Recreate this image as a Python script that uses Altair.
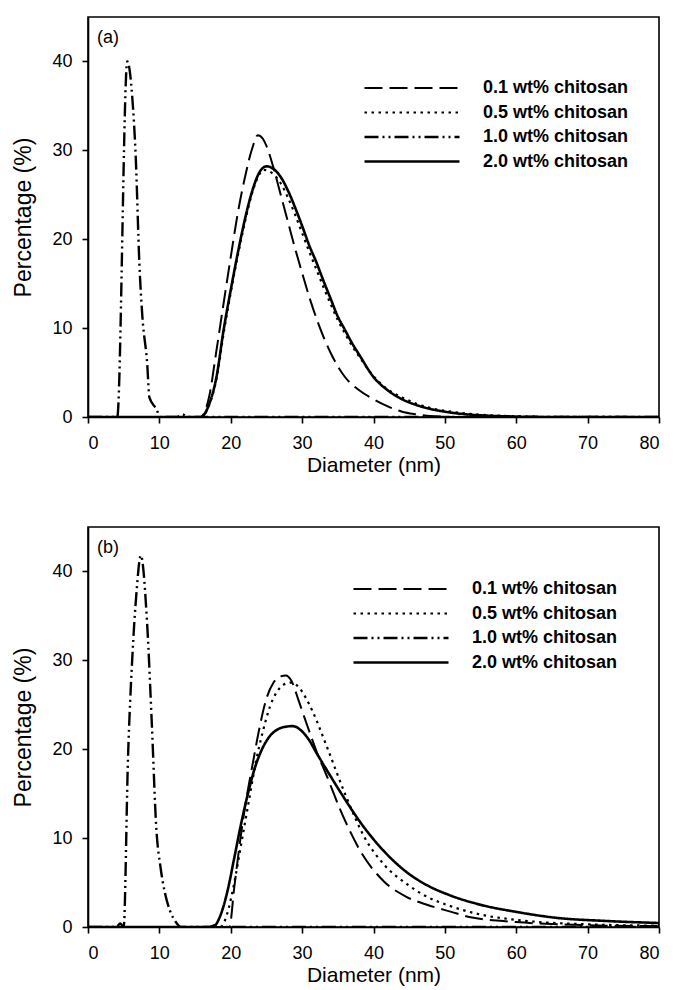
import altair as alt
import pandas as pd

SERIES = ["0.1 wt% chitosan", "0.5 wt% chitosan", "1.0 wt% chitosan", "2.0 wt% chitosan"]
DASHES = [[18, 7], [2.5, 4.5], [14, 4, 2, 4, 2, 4], [1, 0]]
WIDTHS = [2, 2.6, 2, 2]
FONT = "Liberation Sans, Arial, sans-serif"

# ---------------- panel (a) ----------------
a_x_01 = [0, 15.8, 17, 18, 19, 20, 21, 22, 23, 23.8, 24.5, 25, 26, 27, 28, 29, 30, 31, 32, 33, 34, 35, 36, 38, 40, 42, 44, 46, 48, 50, 52, 80]
a_y_01 = [0, 0, 2.4, 7.5, 12.8, 18, 23, 27, 30.2, 31.7, 31.3, 30.5, 28, 25, 22, 19, 16.2, 13.5, 11.1, 9.0, 7.2, 5.7, 4.5, 3.0, 2.0, 1.2, 0.6, 0.3, 0.1, 0.03, 0, 0]

a_x_05 = [0, 15.8, 17, 18, 19, 20, 21, 22, 23, 24, 24.6, 25.5, 26, 27, 28, 29, 30, 31, 32, 33, 34, 35, 36, 37, 38, 40, 42, 44, 46, 48, 50, 53, 56, 60, 65, 80]
a_y_05 = [0, 0, 1.4, 4.3, 9.4, 14.0, 18.2, 22.0, 25.2, 27.3, 27.8, 27.6, 27.3, 26.3, 24.7, 22.8, 20.7, 18.6, 16.6, 14.6, 12.7, 10.9, 9.4, 8.0, 6.8, 4.6, 3.1, 2.2, 1.5, 1.0, 0.7, 0.4, 0.2, 0.08, 0.02, 0]

a_x_10 = [0, 4.1, 5.5, 6.2, 6.7, 7.2, 7.6, 8.3, 8.6, 9.5, 10.2, 12.5, 13.2, 14, 80]
a_y_10 = [0, 0, 40, 36, 29, 17.2, 11.5, 5.9, 2.2, 1.0, 0, 0, 0.3, 0, 0]

a_x_20 = [0, 15.8, 17, 18, 19, 20, 21, 22, 23, 24, 25, 26, 27, 28, 29, 30, 31, 32, 33, 34, 35, 36, 37, 38, 40, 42, 44, 46, 48, 50, 53, 56, 60, 65, 80]
a_y_20 = [0, 0, 1.5, 4.5, 9.8, 14.3, 18.5, 22.3, 25.4, 27.5, 28.2, 27.9, 27.0, 25.5, 23.6, 21.5, 19.3, 17.4, 15.3, 13.3, 11.3, 9.8, 8.3, 7.0, 4.5, 3.0, 2.0, 1.35, 0.9, 0.6, 0.3, 0.15, 0.05, 0, 0]

# ---------------- panel (b) ----------------
b_x_01 = [0, 19.8, 20.5, 21.3, 22, 23.2, 24, 25, 26, 27, 27.7, 28.5, 29.5, 30.7, 32, 33.4, 35.5, 38.5, 41.5, 44.6, 47.5, 50.9, 53.6, 60, 70, 80]
b_y_01 = [0, 0, 4.5, 9.6, 13.5, 18.9, 22.3, 25.7, 27.5, 28.2, 28.3, 27.7, 25.5, 22.7, 19.8, 17.1, 12.9, 8.1, 5.1, 3.4, 2.5, 1.7, 1.1, 0.56, 0.2, 0.1]

b_x_05 = [0, 18.6, 19.5, 20.5, 21.5, 22.5, 23.5, 24.5, 25.5, 26.5, 27.5, 28.5, 29.5, 30.5, 31.5, 33.6, 36, 38.8, 41.5, 44.9, 47.5, 50.6, 55, 60, 70, 80]
b_y_05 = [0, 0, 1.5, 5, 9.5, 14, 18.5, 22, 24.8, 26.5, 27.3, 27.5, 27, 25.8, 24.2, 20, 15, 10, 7, 4.7, 3.4, 2.4, 1.4, 0.8, 0.3, 0.15]

b_x_10 = [0, 4.0, 4.5, 5.0, 5.6, 6.2, 6.8, 7.4, 8.3, 8.95, 9.55, 10.2, 10.76, 11.5, 12.3, 13, 17, 17.8, 18.5, 80]
b_y_10 = [0, 0, 0.4, 0, 18.9, 30.2, 37.7, 41.8, 33.9, 22.7, 11.4, 6.5, 3.9, 1.8, 0.56, 0, 0, 0.2, 0, 0]

b_x_20 = [0, 17.5, 18.5, 19.5, 20.5, 21.5, 22.5, 23.5, 24.5, 25.5, 26.5, 27.5, 28.7, 30, 31, 32, 33.5, 35.5, 38.5, 41.5, 44.6, 47.5, 50.6, 55, 60, 66, 72, 80]
b_y_20 = [0, 0, 1.2, 3.9, 7.8, 11.8, 15.3, 18.2, 20.2, 21.5, 22.2, 22.5, 22.6, 22.0, 21.0, 19.6, 17.6, 15.0, 11.4, 8.5, 6.2, 4.7, 3.6, 2.5, 1.7, 1.0, 0.7, 0.45]


def frame(pairs):
    rows = []
    for name, xs, ys in pairs:
        for i, (xv, yv) in enumerate(zip(xs, ys)):
            rows.append({"series": name, "x": xv, "y": yv, "i": i})
    return pd.DataFrame(rows)


df_a = frame([(SERIES[0], a_x_01, a_y_01), (SERIES[1], a_x_05, a_y_05),
              (SERIES[2], a_x_10, a_y_10), (SERIES[3], a_x_20, a_y_20)])
df_b = frame([(SERIES[0], b_x_01, b_y_01), (SERIES[1], b_x_05, b_y_05),
              (SERIES[2], b_x_10, b_y_10), (SERIES[3], b_x_20, b_y_20)])


def panel(df, tag, lx, ly):
    lines = alt.Chart(df).mark_line(color="black", interpolate="monotone", clip=True).encode(
        x=alt.X("x:Q", scale=alt.Scale(domain=[0, 80], nice=False),
                axis=alt.Axis(values=list(range(0, 81, 10)), title="Diameter (nm)",
                              labelPadding=11, titlePadding=2, titleFontSize=21)),
        y=alt.Y("y:Q", scale=alt.Scale(domain=[0, 45], nice=False),
                axis=alt.Axis(values=[0, 10, 20, 30, 40], title="Percentage (%)",
                              labelPadding=10, titlePadding=16, titleFontSize=23)),
        strokeDash=alt.StrokeDash(
            "series:N",
            scale=alt.Scale(domain=SERIES, range=DASHES),
            legend=alt.Legend(orient="none", legendX=lx, legendY=ly, title=None,
                              symbolType="stroke", symbolSize=9025, symbolStrokeWidth=2,
                              symbolStrokeColor="black", symbolFillColor="transparent",
                              labelFontSize=18, labelFontWeight="bold", labelFont=FONT,
                              labelColor="black", labelOffset=22, clipHeight=16,
                              rowPadding=6.5, padding=0),
        ),
        strokeWidth=alt.StrokeWidth("series:N", scale=alt.Scale(domain=SERIES, range=WIDTHS), legend=None),
        order="i:Q",
    )
    label = alt.Chart(pd.DataFrame({"t": [tag]})).mark_text(
        align="left", baseline="middle", fontSize=18, font=FONT, color="black"
    ).encode(x=alt.value(9), y=alt.value(21), text="t:N")
    return alt.layer(lines, label).properties(width=571, height=400)


chart = alt.vconcat(
    panel(df_a, "(a)", 275, 63),
    panel(df_b, "(b)", 264, 54),
    spacing=50,
).resolve_scale(strokeDash="independent", strokeWidth="independent").resolve_legend(
    strokeDash="independent"
).properties(
    padding={"left": 4, "top": 8, "right": 5, "bottom": 5}
).configure_view(
    stroke="black", strokeWidth=1.6
).configure_axis(
    grid=False, domainColor="black", domainWidth=1.6, tickColor="black", tickWidth=1.6,
    tickSize=6, labelFont=FONT, labelFontSize=18, labelColor="black",
    titleFont=FONT, titleFontSize=20, titleFontWeight="normal", titleColor="black",
)

chart.save("out.html", embed_options={"renderer": "svg", "actions": False})
